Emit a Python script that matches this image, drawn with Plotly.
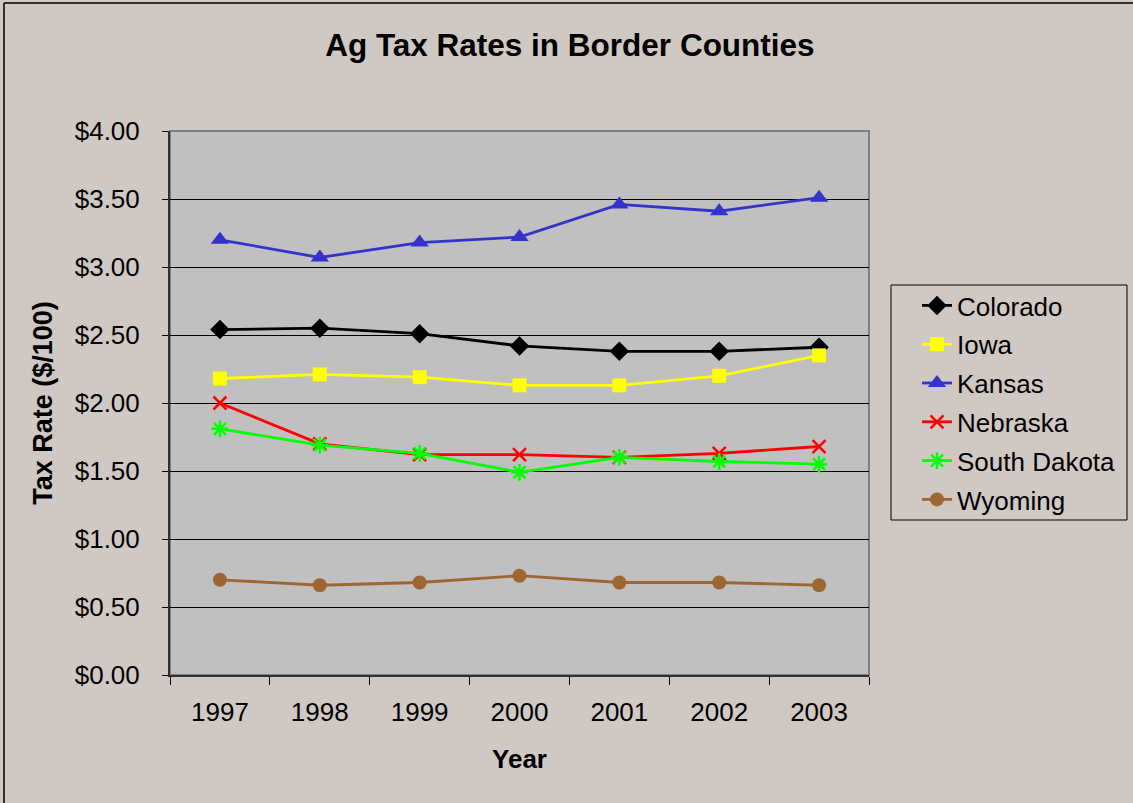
import plotly.graph_objects as go

years = ["1997", "1998", "1999", "2000", "2001", "2002", "2003"]

colorado = [2.54, 2.55, 2.51, 2.42, 2.38, 2.38, 2.41]
iowa = [2.18, 2.21, 2.19, 2.13, 2.13, 2.20, 2.35]
kansas = [3.20, 3.07, 3.18, 3.22, 3.46, 3.41, 3.51]
nebraska = [2.00, 1.70, 1.62, 1.62, 1.60, 1.63, 1.68]
south_dakota = [1.81, 1.69, 1.63, 1.49, 1.60, 1.57, 1.55]
wyoming = [0.70, 0.66, 0.68, 0.73, 0.68, 0.68, 0.66]

series = [
    ("Colorado", colorado, "#000000", "diamond", 15),
    ("Iowa", iowa, "#FFFF00", "square", 14),
    ("Kansas", kansas, "#3333CC", "triangle-up", 16),
    ("Nebraska", nebraska, "#FF0000", "x-thin-open", 13),
    ("South Dakota", south_dakota, "#00FF00", "asterisk-open", 14),
    ("Wyoming", wyoming, "#9E6632", "circle", 14),
]

FONT = "Liberation Sans, Arial, sans-serif"
PAPER = "#CFC8C3"

# plot-area geometry in pixels, used to place the outer frame and legend
W, H = 1133, 803
L, R, T, B = 170, 869, 131, 675


def px_x(p):
    return (p - L) / (R - L)


def px_y(p):
    return (B - p) / (B - T)


fig = go.Figure()
for i, (name, vals, color, symbol, size) in enumerate(series):
    open_marker = symbol.endswith("open")
    fig.add_trace(go.Scatter(
        x=years, y=vals, name=name, mode="lines+markers",
        legendgroup=f"g{i}",
        line=dict(color=color, width=2.8),
        marker=dict(symbol=symbol, size=size, color=color,
                    line=dict(color=color, width=2.5 if open_marker else 0)),
    ))

fig.update_layout(
    width=W, height=H,
    margin=dict(l=L, r=W - R, t=T, b=H - B, pad=0),
    paper_bgcolor=PAPER,
    plot_bgcolor="#C0C0C0",
    font=dict(family=FONT, size=26, color="#000000"),
    title=dict(text="<b>Ag Tax Rates in Border Counties</b>",
               font=dict(size=31.5, family=FONT),
               x=0.503, xanchor="center", y=1 - 45 / H, yanchor="middle"),
    showlegend=True,
    legend=dict(
        x=px_x(917), y=px_y(282), xanchor="left", yanchor="top",
        bgcolor="rgba(0,0,0,0)", borderwidth=0,
        font=dict(size=26, family=FONT),
        tracegroupgap=2,
    ),
    xaxis=dict(
        type="category", tickson="boundaries", range=[-0.5, 6.5],
        showgrid=False, showline=True, linecolor="#303030", linewidth=2,
        ticks="outside", ticklen=8, tickcolor="#000000", tickwidth=1,
        ticklabelstandoff=13,
        title=dict(text="<b>Year</b>", font=dict(size=26, family=FONT), standoff=24),
        zeroline=False,
    ),
    yaxis=dict(
        range=[0, 4], dtick=0.5, tickprefix="$", tickformat=".2f",
        showgrid=True, gridcolor="#000000", gridwidth=1,
        showline=True, linecolor="#303030", linewidth=2,
        ticks="outside", ticklen=6, tickcolor="#000000", tickwidth=1,
        ticklabelstandoff=17,
        title=dict(text="<b>Tax Rate ($/100)</b>", font=dict(size=27, family=FONT), standoff=14),
        zeroline=False,
    ),
    shapes=[
        # gray frame on the top and right of the plot area
        dict(type="rect", xref="paper", yref="paper", x0=0, x1=1, y0=0, y1=1,
             line=dict(color="#808080", width=2), layer="below"),
        # legend box
        dict(type="rect", xref="paper", yref="paper",
             x0=px_x(891), x1=px_x(1127), y0=px_y(520), y1=px_y(285),
             line=dict(color="#000000", width=1)),
        # chart frame: left and top edges
        dict(type="line", xref="paper", yref="paper",
             x0=px_x(4), x1=px_x(4), y0=px_y(H), y1=px_y(3),
             line=dict(color="#000000", width=1.5)),
        dict(type="line", xref="paper", yref="paper",
             x0=px_x(4), x1=px_x(W), y0=px_y(3), y1=px_y(3),
             line=dict(color="#000000", width=1.5)),
    ],
)

fig.write_html("out.html")
